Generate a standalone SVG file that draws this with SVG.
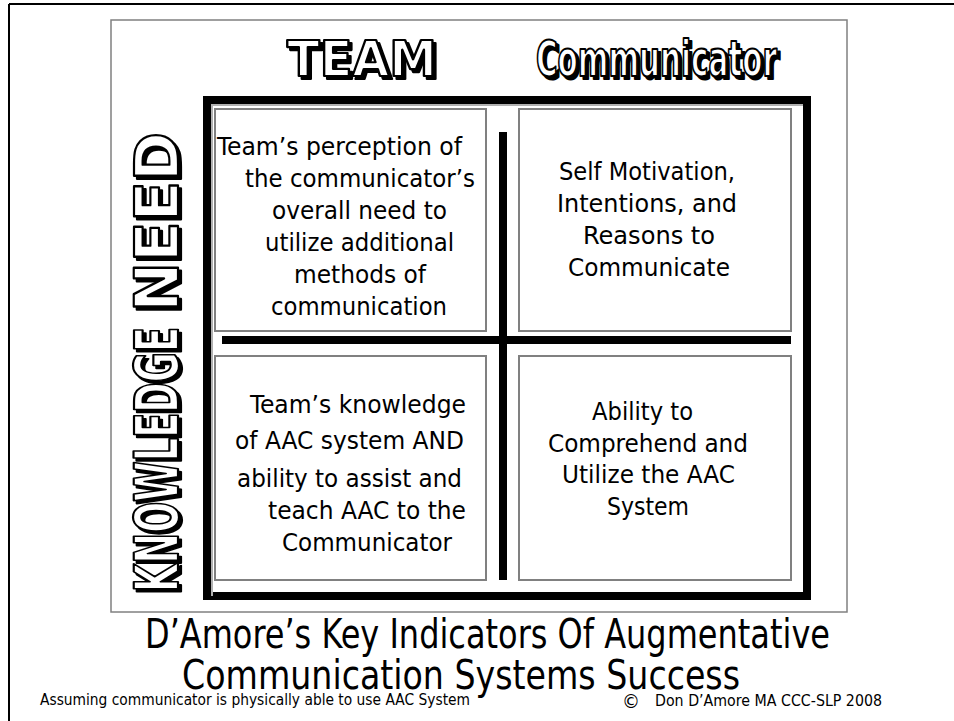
<svg xmlns="http://www.w3.org/2000/svg" width="954" height="721" viewBox="0 0 954 721">
<style>
.body{font-family:"DejaVu Sans Condensed","DejaVu Sans",sans-serif;font-stretch:condensed;font-size:24.5px;fill:#000}
.title{font-family:"DejaVu Sans Condensed","DejaVu Sans",sans-serif;font-stretch:condensed;font-size:40px;fill:#000}
.foot{font-family:"DejaVu Sans Condensed","DejaVu Sans",sans-serif;font-stretch:condensed;font-size:15px;fill:#000}
.hd{font-family:"DejaVu Sans Condensed","DejaVu Sans",sans-serif;font-stretch:condensed;font-weight:bold;font-size:49px}
.hdf{fill:#fff;stroke:#000;stroke-width:2.2;stroke-linejoin:round}
.hds{fill:#000;stroke:#000;stroke-width:2.2;stroke-linejoin:round}
.side{font-family:"DejaVu Sans Condensed","DejaVu Sans",sans-serif;font-stretch:condensed;font-weight:bold;font-size:60px}
.box{fill:#fff;stroke:#808080;stroke-width:2}
</style>
<rect width="954" height="721" fill="#fff"/>
<g id="page-frame">
<path d="M9,4 H954 M9,4 V721" stroke="#000" stroke-width="2" fill="none"/>
<rect x="111" y="20" width="736" height="592" fill="none" stroke="#808080" stroke-width="1.5"/>
</g>
<g id="header-team">
<text class="hd hds" x="290" y="79" textLength="150" lengthAdjust="spacingAndGlyphs">TEAM</text>
<text class="hd hdf" x="287" y="76" textLength="150" lengthAdjust="spacingAndGlyphs">TEAM</text>
</g>
<g id="header-communicator">
<text class="hd hds" x="539" y="79" textLength="241" lengthAdjust="spacingAndGlyphs">Communicator</text>
<text class="hd hdf" x="536" y="76" textLength="241" lengthAdjust="spacingAndGlyphs">Communicator</text>
</g>
<g id="label-need">
<text class="side hds" transform="translate(181,315) rotate(-90)" textLength="180" lengthAdjust="spacingAndGlyphs">NEED</text>
<text class="side hdf" transform="translate(178,312) rotate(-90)" textLength="180" lengthAdjust="spacingAndGlyphs">NEED</text>
</g>
<g id="label-knowledge">
<text class="side hds" transform="translate(181,595) rotate(-90)" textLength="265" lengthAdjust="spacingAndGlyphs">KNOWLEDGE</text>
<text class="side hdf" transform="translate(178,592) rotate(-90)" textLength="265" lengthAdjust="spacingAndGlyphs">KNOWLEDGE</text>
</g>
<g id="matrix-frame">
<rect x="207" y="100" width="600" height="496" fill="none" stroke="#000" stroke-width="8"/>
<path d="M212,596 V105 H803" fill="none" stroke="#b0b0b0" stroke-width="2"/>
</g>
<g id="connectors">
<rect x="499" y="132" width="8" height="448" fill="#000"/>
<rect x="222" y="336" width="569" height="8" fill="#000"/>
</g>
<g id="node-team-need">
<rect class="box" x="215" y="109" width="271" height="222"/>
<text class="body" x="217" y="155" textLength="245" lengthAdjust="spacingAndGlyphs">Team’s perception of</text>
<text class="body" x="245" y="187" textLength="230" lengthAdjust="spacingAndGlyphs">the communicator’s</text>
<text class="body" x="272" y="219" textLength="175" lengthAdjust="spacingAndGlyphs">overall need to</text>
<text class="body" x="265" y="251" textLength="189" lengthAdjust="spacingAndGlyphs">utilize additional</text>
<text class="body" x="294" y="283" textLength="132" lengthAdjust="spacingAndGlyphs">methods of</text>
<text class="body" x="271" y="315" textLength="176" lengthAdjust="spacingAndGlyphs">communication</text>
</g>
<g id="node-communicator-need">
<rect class="box" x="519" y="109" width="272" height="222"/>
<text class="body" x="559" y="180" textLength="176" lengthAdjust="spacingAndGlyphs">Self Motivation,</text>
<text class="body" x="557" y="212" textLength="180" lengthAdjust="spacingAndGlyphs">Intentions, and</text>
<text class="body" x="583" y="244" textLength="132" lengthAdjust="spacingAndGlyphs">Reasons to</text>
<text class="body" x="568" y="276" textLength="162" lengthAdjust="spacingAndGlyphs">Communicate</text>
</g>
<g id="node-team-knowledge">
<rect class="box" x="215" y="356" width="271" height="224"/>
<text class="body" x="250" y="413" textLength="216" lengthAdjust="spacingAndGlyphs">Team’s knowledge</text>
<text class="body" x="235" y="449" textLength="229" lengthAdjust="spacingAndGlyphs">of AAC system AND</text>
<text class="body" x="237" y="487" textLength="225" lengthAdjust="spacingAndGlyphs">ability to assist and</text>
<text class="body" x="268" y="519" textLength="198" lengthAdjust="spacingAndGlyphs">teach AAC to the</text>
<text class="body" x="282" y="551" textLength="170" lengthAdjust="spacingAndGlyphs">Communicator</text>
</g>
<g id="node-communicator-knowledge">
<rect class="box" x="519" y="356" width="272" height="224"/>
<text class="body" x="592" y="420" textLength="101" lengthAdjust="spacingAndGlyphs">Ability to</text>
<text class="body" x="548" y="452" textLength="200" lengthAdjust="spacingAndGlyphs">Comprehend and</text>
<text class="body" x="562" y="483" textLength="173" lengthAdjust="spacingAndGlyphs">Utilize the AAC</text>
<text class="body" x="607" y="515" textLength="82" lengthAdjust="spacingAndGlyphs">System</text>
</g>
<g id="title">
<text class="title" x="145" y="648" textLength="685" lengthAdjust="spacingAndGlyphs">D’Amore’s Key Indicators Of Augmentative</text>
<text class="title" x="182" y="689" textLength="558" lengthAdjust="spacingAndGlyphs">Communication Systems Success</text>
</g>
<g id="footer">
<text class="foot" x="40" y="705" textLength="430" lengthAdjust="spacingAndGlyphs">Assuming communicator is physically able to use AAC System</text>
<text class="foot" x="631" y="708" text-anchor="middle" style="font-size:20px">©</text>
<text class="foot" x="655" y="706" textLength="227" lengthAdjust="spacingAndGlyphs">Don D’Amore MA CCC-SLP 2008</text>
</g>
</svg>
